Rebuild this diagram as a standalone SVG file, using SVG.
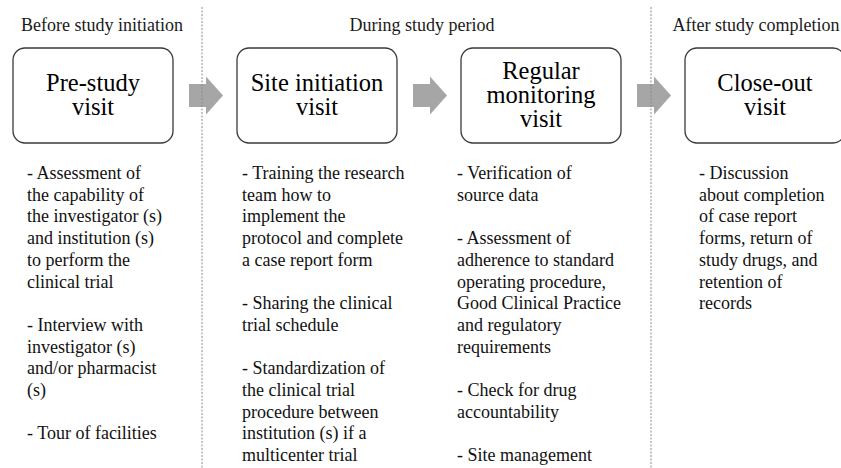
<svg xmlns="http://www.w3.org/2000/svg" xmlns:xlink="http://www.w3.org/1999/xlink" width="841" height="468" viewBox="0 0 841 468">
<style>
  text { font-family: "Liberation Serif", "Times New Roman", serif; }
  .hdr { font-size: 18px; fill: #1a1a1a; text-anchor: middle; }
  .box { fill: #ffffff; stroke: #3a3a3a; stroke-width: 1.3; }
  .title { font-size: 24.5px; fill: #000000; text-anchor: middle; }
  .body { font-size: 18px; fill: #111111; }
  .sep { stroke: #8a8a8a; stroke-width: 1; stroke-dasharray: 2 1.5; fill: none; }
  .arrow { fill: #a6a6a6; }
</style>
<defs>
  <path id="arr" d="M0,-11.5 H17 V-19 L34,0 L17,19 V11.5 H0 Z"/>
</defs>
<rect width="841" height="468" fill="#ffffff"/>

<g id="headers">
  <text class="hdr" x="102" y="31">Before study initiation</text>
  <text class="hdr" x="422" y="31">During study period</text>
  <text class="hdr" x="756" y="31">After study completion</text>
</g>

<g id="connectors">
  <use xlink:href="#arr" href="#arr" class="arrow" x="189" y="95.5"/>
  <use xlink:href="#arr" href="#arr" class="arrow" x="413" y="95.5"/>
  <use xlink:href="#arr" href="#arr" class="arrow" x="637" y="95.5"/>
</g>

<g id="separators">
  <line class="sep" x1="202" y1="7" x2="202" y2="468"/>
  <line class="sep" x1="651" y1="7" x2="651" y2="468"/>
</g>

<g id="node-prestudy">
  <rect class="box" x="13" y="48" width="160" height="95" rx="12"/>
  <text class="title" x="93" y="91">Pre-study</text>
  <text class="title" x="93" y="115">visit</text>
  <text class="body" x="27" y="179">
    <tspan x="27">- Assessment of</tspan>
    <tspan x="27" dy="21.7">the capability of</tspan>
    <tspan x="27" dy="21.7">the investigator (s)</tspan>
    <tspan x="27" dy="21.7">and institution (s)</tspan>
    <tspan x="27" dy="21.7">to perform the</tspan>
    <tspan x="27" dy="21.7">clinical trial</tspan>
    <tspan x="27" dy="43.4">- Interview with</tspan>
    <tspan x="27" dy="21.7">investigator (s)</tspan>
    <tspan x="27" dy="21.7">and/or pharmacist</tspan>
    <tspan x="27" dy="21.7">(s)</tspan>
    <tspan x="27" dy="43.4">- Tour of facilities</tspan>
  </text>
</g>

<g id="node-siteinit">
  <rect class="box" x="237" y="48" width="160" height="95" rx="12"/>
  <text class="title" x="317" y="91">Site initiation</text>
  <text class="title" x="317" y="115">visit</text>
  <text class="body" x="242" y="179">
    <tspan x="242">- Training the research</tspan>
    <tspan x="242" dy="21.7">team how to</tspan>
    <tspan x="242" dy="21.7">implement the</tspan>
    <tspan x="242" dy="21.7">protocol and complete</tspan>
    <tspan x="242" dy="21.7">a case report form</tspan>
    <tspan x="242" dy="43.4">- Sharing the clinical</tspan>
    <tspan x="242" dy="21.7">trial schedule</tspan>
    <tspan x="242" dy="43.4">- Standardization of</tspan>
    <tspan x="242" dy="21.7">the clinical trial</tspan>
    <tspan x="242" dy="21.7">procedure between</tspan>
    <tspan x="242" dy="21.7">institution (s) if a</tspan>
    <tspan x="242" dy="21.7">multicenter trial</tspan>
  </text>
</g>

<g id="node-monitoring">
  <rect class="box" x="461" y="48" width="160" height="95" rx="12"/>
  <text class="title" x="541" y="79">Regular</text>
  <text class="title" x="541" y="103">monitoring</text>
  <text class="title" x="541" y="127">visit</text>
  <text class="body" x="457" y="179">
    <tspan x="457">- Verification of</tspan>
    <tspan x="457" dy="21.7">source data</tspan>
    <tspan x="457" dy="43.4">- Assessment of</tspan>
    <tspan x="457" dy="21.7">adherence to standard</tspan>
    <tspan x="457" dy="21.7">operating procedure,</tspan>
    <tspan x="457" dy="21.7">Good Clinical Practice</tspan>
    <tspan x="457" dy="21.7">and regulatory</tspan>
    <tspan x="457" dy="21.7">requirements</tspan>
    <tspan x="457" dy="43.4">- Check for drug</tspan>
    <tspan x="457" dy="21.7">accountability</tspan>
    <tspan x="457" dy="43.4">- Site management</tspan>
  </text>
</g>

<g id="node-closeout">
  <rect class="box" x="685" y="48" width="160" height="95" rx="12"/>
  <text class="title" x="765" y="91">Close-out</text>
  <text class="title" x="765" y="115">visit</text>
  <text class="body" x="699" y="179">
    <tspan x="699">- Discussion</tspan>
    <tspan x="699" dy="21.7">about completion</tspan>
    <tspan x="699" dy="21.7">of case report</tspan>
    <tspan x="699" dy="21.7">forms, return of</tspan>
    <tspan x="699" dy="21.7">study drugs, and</tspan>
    <tspan x="699" dy="21.7">retention of</tspan>
    <tspan x="699" dy="21.7">records</tspan>
  </text>
</g>
</svg>
